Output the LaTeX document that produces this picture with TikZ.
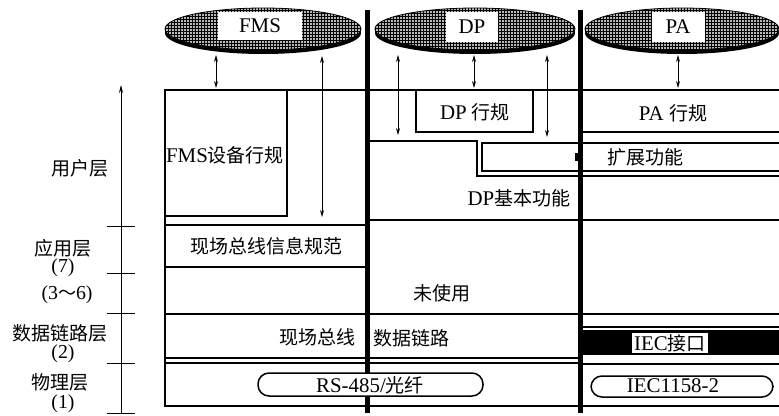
\documentclass[tikz,border=0pt]{standalone}
\usepackage{fontspec}
\setmainfont{Liberation Serif}[Scale=1.1]
\newfontfamily\cjk{Noto Sans CJK SC}
\usetikzlibrary{arrows.meta,patterns}
\begin{document}
\begin{tikzpicture}[x=1pt,y=-1pt,
  frame/.style={line width=1.5pt},
  sepline/.style={line width=5pt},
  arr/.style={line width=0.7pt,{Stealth[length=7pt,width=4pt]}-{Stealth[length=7pt,width=4pt]}},
  lbl/.style={font=\fontsize{19}{19}\selectfont, inner sep=0pt, align=center},
  num/.style={font=\fontsize{18}{18}\selectfont, inner sep=0pt},
  tag/.style={lbl, fill=white},
  pill/.style={draw,fill=white,line width=1.5pt,rounded corners=11pt},
  tick/.style={line width=1pt},
]
\useasboundingbox (0,0) rectangle (779,415);
% ellipses
\foreach \cx/\rx in {263/98, 475/100, 682/97} {
  \fill[black] (\cx,33) ellipse [x radius=\rx, y radius=21];
  \fill[gray!55] (\cx,29) ellipse [x radius=\rx, y radius=21];
  \fill[pattern=grid, pattern color=black] (\cx,29) ellipse [x radius=\rx, y radius=21];
  \draw[line width=0.8pt] (\cx,29) ellipse [x radius=\rx, y radius=21];
}
\node[tag, minimum width=84, minimum height=28] (fms) at (260,26) {FMS};
\node[tag, minimum width=52, minimum height=30] (dp) at (472,27) {DP};
\node[tag, minimum width=53, minimum height=30] (pa) at (678,27) {PA};
% separators
\draw[sepline] (367,10) -- (367,413);
\draw[sepline] (580,10) -- (580,413);
% frame
\draw[frame] (779,90) -- (165,90) -- (165,406) -- (779,406);
\draw[frame] (165,90) rectangle (287,216);
\draw[frame] (165,225) -- (367,225);
\draw[frame] (165,267) -- (367,267);
\draw[frame] (416,90) rectangle (533,132);
\draw[frame] (580,132) -- (779,132);
\draw[frame] (367,141) -- (477,141) -- (477,176) -- (779,176);
\draw[frame] (779,143) -- (482,143) -- (482,171) -- (779,171);
\fill (575,153) rectangle (580,161);
\draw[frame] (367,220) -- (779,220);
\draw[frame] (165,314) -- (779,314);
\draw[frame] (165,358) -- (580,358);
\draw[frame] (165,363) -- (580,363);
\draw[frame] (580,327) -- (779,327);
\fill (580,330) rectangle (779,355);
\draw[frame] (580,364) -- (779,364);
\draw[pill] (258,373) rectangle (483,396);
\draw[pill] (591,376) rectangle (773,397);
% texts
\node[lbl] (fmsdev) at (225,155) {FMS{\cjk 设备行规}};
\node[lbl] (fmsspec) at (266,246) {\cjk 现场总线信息规范};
\node[lbl] (dpprof) at (475,112) {DP {\cjk 行规}};
\node[lbl] (paprof) at (673,113) {PA {\cjk 行规}};
\node[lbl] (ext) at (645,157) {\cjk 扩展功能};
\node[lbl] (dpbase) at (519,198) {DP{\cjk 基本功能}};
\node[lbl] (unused) at (442,293) {\cjk 未使用};
\node[lbl] (fbus) at (317,337) {\cjk 现场总线};
\node[lbl] (dlink) at (411,338) {\cjk 数据链路};
\node[tag, minimum width=76, minimum height=20] (iec) at (670,343) {IEC{\cjk 接口}};
\node[lbl] (rs) at (370,385) {RS-485/{\cjk 光纤}};
\node[lbl] (iec2) at (673,386) {IEC1158-2};
% left axis
\coordinate (axb) at (121,413);
\coordinate (axt) at (121,85);
\draw[line width=0.7pt,-{Stealth[length=8pt,width=4pt]}] (axb) -- (axt);
\foreach \y in {226,273,313,363,413} \draw[tick] (107,\y) -- (135,\y);
\node[lbl] (l1) at (80,168) {\cjk 用户层};
\node[lbl] (l2) at (63,248) {\cjk 应用层};
\node[num] (l2n) at (63,268) {(7)};
\node[num] (l3) at (67,295) {(3{\cjk ～}6)};
\node[lbl] (l4) at (60,333) {\cjk 数据链路层};
\node[num] (l4n) at (63,354) {(2)};
\node[lbl] (l5) at (60,382) {\cjk 物理层};
\node[num] (l5n) at (63,404) {(1)};
% arrows
\coordinate (a1t) at (216,55); \coordinate (a1b) at (216,88);
\coordinate (a2t) at (322,56); \coordinate (a2b) at (322,217);
\coordinate (a3t) at (398,55); \coordinate (a3b) at (398,135);
\coordinate (a4t) at (474,55); \coordinate (a4b) at (474,88);
\coordinate (a5t) at (547,55); \coordinate (a5b) at (547,137);
\coordinate (a6t) at (678,55); \coordinate (a6b) at (678,88);
\foreach \i in {1,...,6} \draw[arr] (a\i t) -- (a\i b);
\end{tikzpicture}
\end{document}
